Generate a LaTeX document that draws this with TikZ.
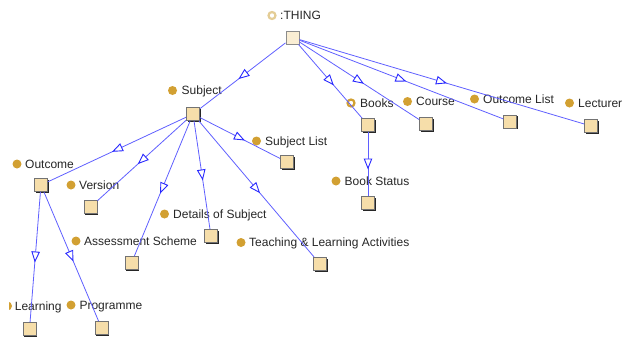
\documentclass[tikz,border=0pt]{standalone}
\usepackage{fontspec}
\setmainfont{Liberation Sans}
\usetikzlibrary{arrows.meta,decorations.markings,shadows}
\definecolor{edgeblue}{RGB}{95,95,255}
\definecolor{tipblue}{RGB}{40,40,255}
\definecolor{dotgold}{RGB}{210,160,50}
\definecolor{ringtan}{RGB}{228,205,150}
\definecolor{boxfill}{RGB}{246,222,170}
\definecolor{thingfill}{RGB}{250,238,212}
\begin{document}
\begin{tikzpicture}[x=1bp,y=-1bp,
  cls/.style={draw=black!55, line width=1bp, fill=boxfill, minimum size=13bp, inner sep=0pt,
    drop shadow={shadow xshift=1.2bp, shadow yshift=-1.2bp, fill=black, opacity=0.85}},
  thingcls/.style={draw=black!45, line width=1bp, fill=thingfill, minimum size=13bp, inner sep=0pt},
  dot/.style={circle, fill=dotgold, minimum size=9bp, inner sep=0pt},
  ringdot/.style={circle, draw=#1, line width=2.2bp, fill=white, minimum size=7bp, inner sep=0pt},
  lbl/.style={anchor=base west, inner sep=0pt, font=\fontsize{12bp}{14bp}\selectfont, text=black!85},
  isa/.style={draw=edgeblue, line width=0.8bp, postaction={decorate},
    decoration={markings, mark=at position 0.5 with {\arrow[xshift=5.5bp]{Triangle[length=11bp, width=8.5bp, fill=white, color=tipblue, line width=0.9bp]}}}}
]
\useasboundingbox (0,0) rectangle (622,343);

% boxes
\node[thingcls] (thing) at (292.5,37.5) {};
\node[cls] (subject) at (193,114) {};
\node[cls] (outcome) at (41,185) {};
\node[cls] (version) at (90.5,207) {};
\node[cls] (assess) at (131.5,263) {};
\node[cls] (learning) at (29.5,329) {};
\node[cls] (programme) at (101.5,328) {};
\node[cls] (details) at (211,236) {};
\node[cls] (sublist) at (287,162) {};
\node[cls] (teaching) at (320,264) {};
\node[cls] (books) at (368,125) {};
\node[cls] (bookstatus) at (368,203) {};
\node[cls] (course) at (426,124) {};
\node[cls] (outlist) at (510,121.5) {};
\node[cls] (lecturer) at (591,126) {};

% labels
\node[ringdot=ringtan] (thingdot) at (272,15.5) {};
\node[lbl] (thinglbl) at (280,19.8) {:THING};
\node[dot] (subjectdot) at (172.5,90.5) {};
\node[lbl] (subjectlbl) at (181.5,94.8) {Subject};
\node[dot] (outcomedot) at (17,164) {};
\node[lbl] (outcomelbl) at (25,168.3) {Outcome};
\node[dot] (versiondot) at (71,185) {};
\node[lbl] (versionlbl) at (79,189.3) {Version};
\node[dot] (assessdot) at (76,241) {};
\node[lbl] (assesslbl) at (84,245.3) {Assessment Scheme};
\begin{scope}
  \clip (9,295) rectangle (14,318);
  \node[dot] (learningdot) at (7.5,306) {};
\end{scope}
\node[lbl] (learninglbl) at (14.7,310.3) {Learning};
\node[dot] (programmedot) at (71,305) {};
\node[lbl] (programmelbl) at (79.3,309.3) {Programme};
\node[dot] (detailsdot) at (164.5,214) {};
\node[lbl] (detailslbl) at (173,218.3) {Details of Subject};
\node[dot] (sublistdot) at (256.5,141) {};
\node[lbl] (sublistlbl) at (265,145.3) {Subject List};
\node[dot] (teachingdot) at (241,242.5) {};
\node[lbl] (teachinglbl) at (249,246.8) {Teaching \& Learning Activities};
\node[ringdot=dotgold] (booksdot) at (351,103) {};
\node[lbl] (bookslbl) at (360,107.3) {Books};
\node[dot] (bookstatusdot) at (336,181) {};
\node[lbl] (bookstatuslbl) at (344.5,185.3) {Book Status};
\node[dot] (coursedot) at (407.5,101.5) {};
\node[lbl] (courselbl) at (416,105.8) {Course};
\node[dot] (outlistdot) at (474.5,99) {};
\node[lbl] (outlistlbl) at (483,103.3) {Outcome List};
\node[dot] (lecturerdot) at (569.5,103) {};
\node[lbl] (lecturerlbl) at (578,107.3) {Lecturer};

% edges
\draw[isa] (thing) -- (subject);
\draw[isa] (thing) -- (books);
\draw[isa] (thing) -- (course);
\draw[isa] (thing) -- (outlist);
\draw[isa] (thing) -- (lecturer);
\draw[isa] (subject) -- (outcome);
\draw[isa] (subject) -- (version);
\draw[isa] (subject) -- (assess);
\draw[isa] (subject) -- (details);
\draw[isa] (subject) -- (sublist);
\draw[isa] (subject) -- (teaching);
\draw[isa] (outcome) -- (learning);
\draw[isa] (outcome) -- (programme);
\draw[isa] (books) -- (bookstatus);
\end{tikzpicture}
\end{document}
